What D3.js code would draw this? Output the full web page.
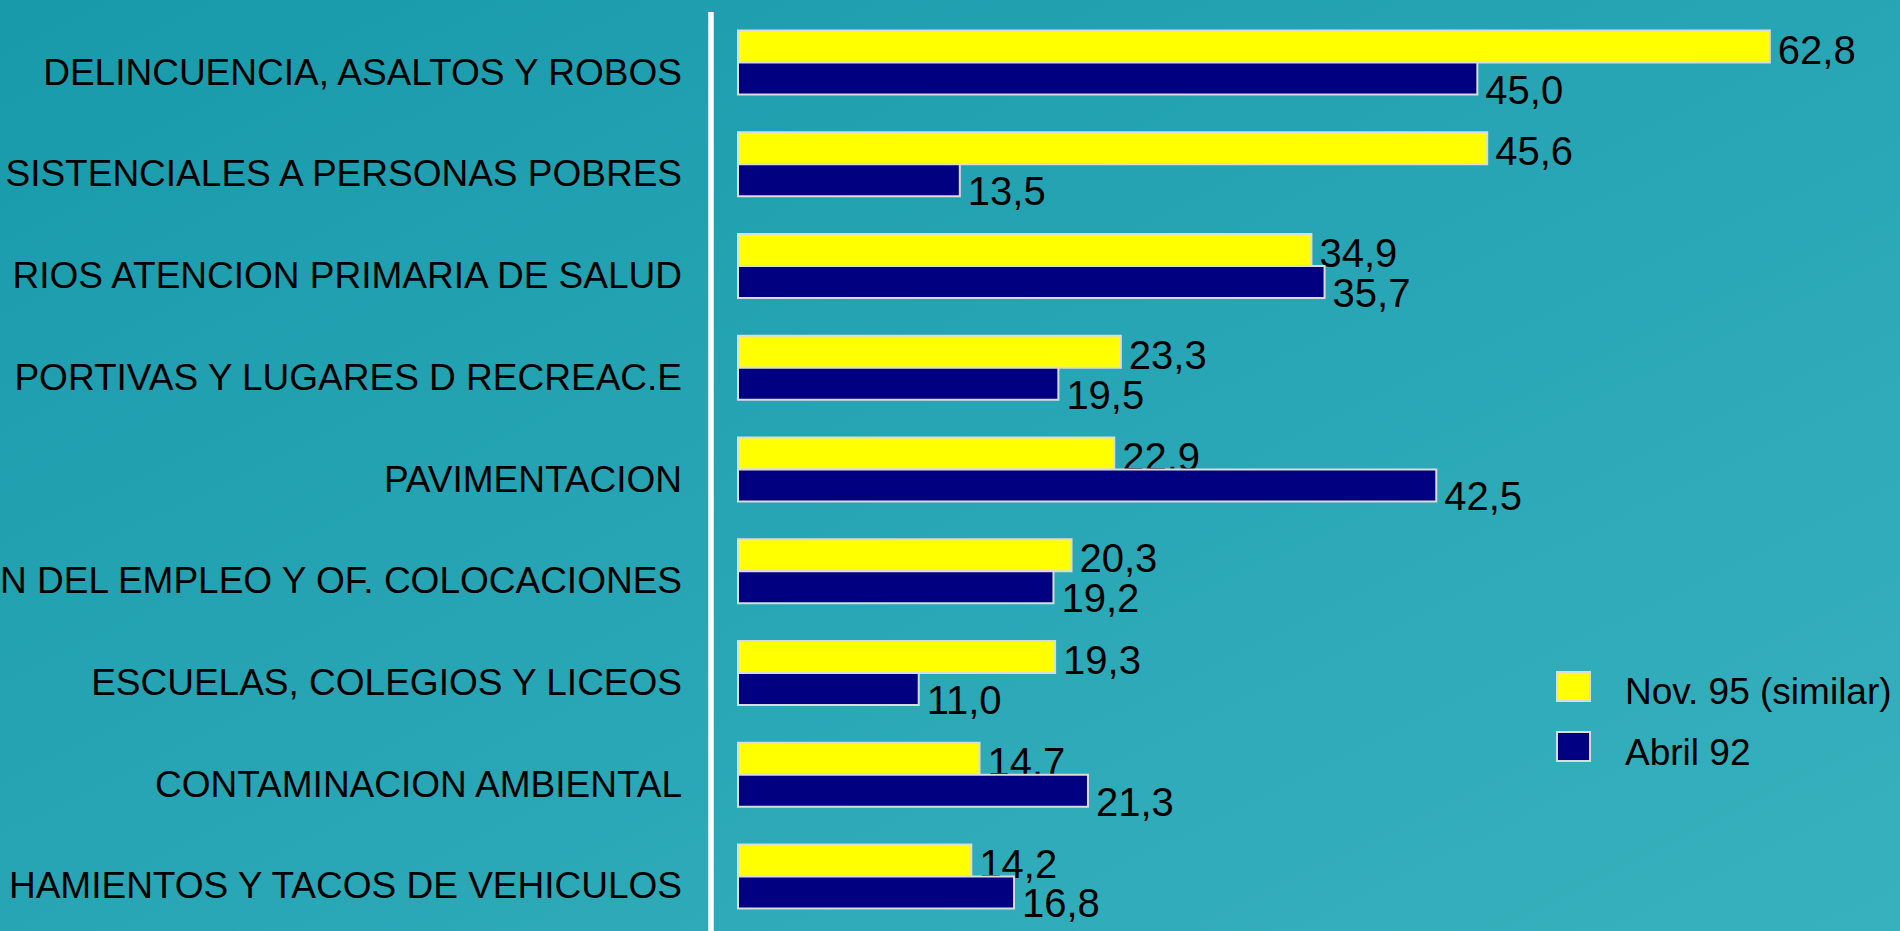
<!DOCTYPE html>
<html>
<head>
<meta charset="utf-8">
<script src="https://cdn.jsdelivr.net/npm/d3@7"></script>
<style>
  html, body { margin: 0; padding: 0; overflow: hidden; background: #1f9fae; }
  svg { display: block; font-family: "Liberation Sans", Arial, Helvetica, sans-serif; }
</style>
</head>
<body>
<svg id="chart" width="1900" height="931"></svg>
<script>
const categories = [
  "DELINCUENCIA, ASALTOS Y ROBOS",
  "SISTENCIALES A PERSONAS POBRES",
  "RIOS ATENCION PRIMARIA DE SALUD",
  "PORTIVAS Y LUGARES D RECREAC.E",
  "PAVIMENTACION",
  "N DEL EMPLEO Y OF. COLOCACIONES",
  "ESCUELAS, COLEGIOS Y LICEOS",
  "CONTAMINACION AMBIENTAL",
  "HAMIENTOS Y TACOS DE VEHICULOS"
];
const seriesNames = ["Nov. 95 (similar)", "Abril 92"];
const nov95 = [62.8, 45.6, 34.9, 23.3, 22.9, 20.3, 19.3, 14.7, 14.2];
const abril92 = [45.0, 13.5, 35.7, 19.5, 42.5, 19.2, 11.0, 21.3, 16.8];
const valueLabels = {
  nov95: ["62,8", "45,6", "34,9", "23,3", "22,9", "20,3", "19,3", "14,7", "14,2"],
  abril92: ["45,0", "13,5", "35,7", "19,5", "42,5", "19,2", "11,0", "21,3", "16,8"]
};

const W = 1900, H = 931;
const svg = d3.select("#chart");

// background gradient
const defs = svg.append("defs");
const grad = defs.append("linearGradient").attr("id", "bg")
  .attr("x1", "0%").attr("y1", "0%").attr("x2", "100%").attr("y2", "100%");
grad.append("stop").attr("offset", "0%").attr("stop-color", "#189aab");
grad.append("stop").attr("offset", "100%").attr("stop-color", "#38b1be");
svg.append("rect").attr("width", W).attr("height", H).attr("fill", "url(#bg)");

const series = [
  { name: seriesNames[0], values: nov95, labels: valueLabels.nov95, color: "#ffff00", dy: 17 },
  { name: seriesNames[1], values: abril92, labels: valueLabels.abril92, color: "#000080", dy: 25 }
];

const x = d3.scaleLinear().domain([0, 70]).range([738, 738 + 70 * 16.43]);
const y = d3.scaleBand().domain(categories).range([30.5, 908.5]).paddingInner(0.371).paddingOuter(0);
const yInner = d3.scaleBand().domain(d3.range(series.length)).range([0, y.bandwidth()]);

// vertical white axis line
svg.append("line")
  .attr("x1", 711).attr("x2", 711)
  .attr("y1", 12).attr("y2", H)
  .attr("stroke", "#ffffff").attr("stroke-width", 5.5);

// category labels
svg.append("g").selectAll("text")
  .data(categories)
  .join("text")
  .attr("x", 682)
  .attr("y", d => y(d) + y.bandwidth() / 2 + 22)
  .attr("text-anchor", "end")
  .attr("font-size", 37)
  .attr("fill", "#000")
  .text(d => d);

// bars
const groups = svg.append("g").selectAll("g")
  .data(categories)
  .join("g")
  .attr("transform", d => `translate(0,${y(d)})`);

groups.each(function(cat, ci) {
  const g = d3.select(this);
  series.forEach((s, si) => {
    g.append("rect")
      .attr("x", x(0))
      .attr("y", yInner(si))
      .attr("width", x(s.values[ci]) - x(0))
      .attr("height", yInner.bandwidth())
      .attr("fill", s.color)
      .attr("stroke", "#d9dcdc")
      .attr("stroke-width", 2);
    g.append("text")
      .attr("x", x(s.values[ci]) + 8)
      .attr("y", yInner(si) + yInner.bandwidth() / 2 + s.dy)
      .attr("font-size", 40)
      .attr("fill", "#000")
      .text(s.labels[ci]);
  });
});

// legend
const legend = svg.append("g").attr("transform", "translate(1557,672)");
series.forEach((s, i) => {
  legend.append("rect")
    .attr("x", 0).attr("y", i * 60)
    .attr("width", 33).attr("height", 29)
    .attr("fill", s.color)
    .attr("stroke", "#d9dcdc").attr("stroke-width", 2);
  legend.append("text")
    .attr("x", 68).attr("y", i * 61 + 32)
    .attr("font-size", 37)
    .attr("fill", "#000")
    .text(s.name);
});
</script>
</body>
</html>
